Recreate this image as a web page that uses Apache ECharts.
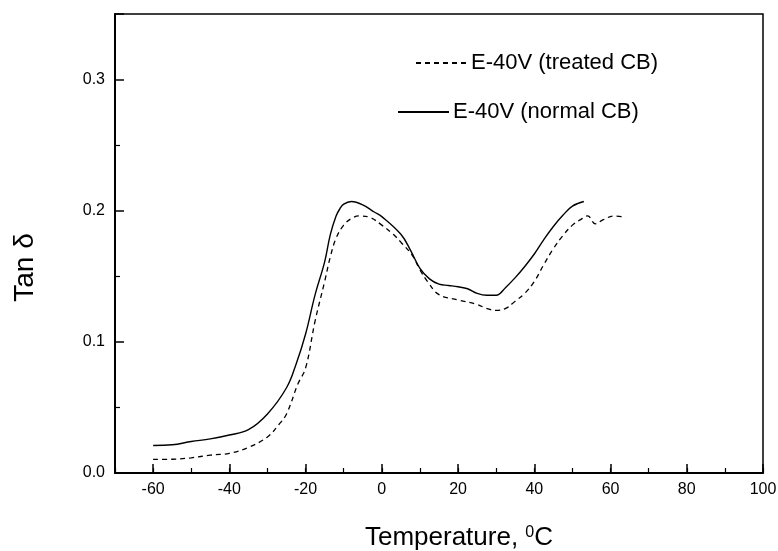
<!DOCTYPE html>
<html>
<head>
<meta charset="utf-8">
<script src="https://cdn.jsdelivr.net/npm/echarts@6/dist/echarts.min.js"></script>
<style>
html, body { margin: 0; padding: 0; background: #fff; }
#main { width: 778px; height: 551px; }
</style>
</head>
<body>
<div id="main"></div>
<script>
// 数据：温度 / tan δ
var tempNormal = [-60, -55, -50, -45, -40, -35, -30, -25, -22.5, -20, -17.5, -15, -13.5, -12, -11, -10, -8, -5, -2, 0, 5, 7.5, 10, 12.5, 15, 17.5, 20, 22.5, 25, 27.5, 30, 32.5, 35, 37.5, 40, 42.5, 45, 47.5, 50, 53]
var tanNormal = [0.021, 0.0215, 0.024, 0.026, 0.029, 0.033, 0.045, 0.065, 0.083, 0.106, 0.136, 0.161, 0.182, 0.196, 0.2015, 0.205, 0.207, 0.2045, 0.199, 0.1955, 0.182, 0.170, 0.156, 0.148, 0.144, 0.143, 0.142, 0.1405, 0.137, 0.1355, 0.1355, 0.1415, 0.149, 0.1575, 0.167, 0.178, 0.188, 0.1965, 0.2035, 0.207]

var tempTreated = [-60, -55, -50, -45, -40, -35, -30, -27, -25, -22, -20, -17.5, -15, -13.5, -12, -10, -8, -6, -3, 0, 3, 5, 8, 10, 12, 15, 20, 25, 27.5, 30, 32.5, 35, 37.5, 40, 42.5, 45, 47.5, 50, 52, 54, 56, 58, 61, 64]
var tanTreated = [0.0104, 0.0105, 0.0116, 0.0136, 0.015, 0.0195, 0.0275, 0.037, 0.045, 0.068, 0.080, 0.116, 0.146, 0.165, 0.179, 0.189, 0.194, 0.196, 0.1947, 0.189, 0.182, 0.176, 0.166, 0.155, 0.146, 0.136, 0.132, 0.1285, 0.1255, 0.124, 0.1255, 0.131, 0.137, 0.146, 0.159, 0.171, 0.181, 0.189, 0.193, 0.196, 0.190, 0.193, 0.196, 0.195]

var xTickValues = [-60, -40, -20, 0, 20, 40, 60, 80, 100]
var seriesNames = ['E-40V (treated CB)', 'E-40V (normal CB)']

var font = 'Liberation Sans'

function pairs(xs, ys) {
  return xs.map(function (x, i) { return [x, ys[i]] })
}

var myChart = echarts.init(document.getElementById('main'))

myChart.setOption({
  animation: false,
  backgroundColor: '#fff',
  textStyle: { fontFamily: font, color: '#000' },
  grid: {
    left: 115, right: 15, top: 14, bottom: 78,
    show: true, borderColor: '#000', borderWidth: 1.5,
    outerBoundsMode: 'none'
  },
  legend: [{
    data: [seriesNames[0]],
    left: 410, top: 47,
    itemWidth: 53, itemHeight: 14, itemGap: 10,
    itemStyle: { opacity: 0 },
    textStyle: { fontFamily: font, fontSize: 22, color: '#000', padding: [0, 0, 0, -3] }
  }, {
    data: [seriesNames[1]],
    left: 392, top: 96,
    itemWidth: 51, itemHeight: 14,
    itemStyle: { opacity: 0 },
    textStyle: { fontFamily: font, fontSize: 22, color: '#000', padding: [0, 0, 0, -1] }
  }],
  xAxis: [{
    type: 'value',
    min: -70, max: 100, interval: 10,
    position: 'bottom',
    name: 'Temperature, {s|0}C',
    nameLocation: 'middle',
    nameGap: 52,
    nameTextStyle: {
      fontFamily: font, fontSize: 26, color: '#000', padding: [0, 0, 0, 40],
      rich: {
        s: { fontFamily: font, fontSize: 16, verticalAlign: 'top', color: '#000' }
      }
    },
    axisLine: { onZero: false, lineStyle: { color: '#000', width: 2 } },
    axisTick: { inside: true, length: 9, customValues: xTickValues, lineStyle: { color: '#000', width: 1.5 } },
    axisLabel: { customValues: xTickValues, margin: 9, fontSize: 16, fontFamily: font, color: '#000' },
    splitLine: { show: false }
  }, {
    // 次刻度
    type: 'value',
    min: -70, max: 100, interval: 10,
    position: 'bottom',
    axisLine: { show: false, onZero: false },
    axisTick: { inside: true, length: 5, lineStyle: { color: '#000', width: 1.2 } },
    axisLabel: { show: false },
    splitLine: { show: false }
  }],
  yAxis: {
    type: 'value',
    min: 0, max: 0.35, interval: 0.1,
    position: 'left',
    name: 'Tan δ',
    nameLocation: 'middle',
    nameGap: 76,
    nameTextStyle: { fontFamily: font, fontSize: 28, color: '#000', padding: [0, 48, 0, 0] },
    axisLine: { onZero: false, lineStyle: { color: '#000', width: 2 } },
    axisTick: { inside: true, length: 9, lineStyle: { color: '#000', width: 1.5 } },
    minorTick: { show: true, splitNumber: 2, length: 5, lineStyle: { color: '#000', width: 1.2 } },
    axisLabel: {
      showMaxLabel: false, margin: 10, fontSize: 16, fontFamily: font, color: '#000',
      formatter: function (v) { return v.toFixed(1) }
    },
    splitLine: { show: false }
  },
  series: [{
    name: seriesNames[0],
    type: 'line',
    xAxisIndex: 0,
    smooth: 0.4,
    symbol: 'none',
    color: '#000',
    lineStyle: { color: '#000', width: 1.3, type: [5, 4] },
    data: pairs(tempTreated, tanTreated)
  }, {
    name: seriesNames[1],
    type: 'line',
    xAxisIndex: 0,
    smooth: 0.4,
    symbol: 'none',
    color: '#000',
    lineStyle: { color: '#000', width: 1.4 },
    data: pairs(tempNormal, tanNormal)
  }]
})
</script>
</body>
</html>
